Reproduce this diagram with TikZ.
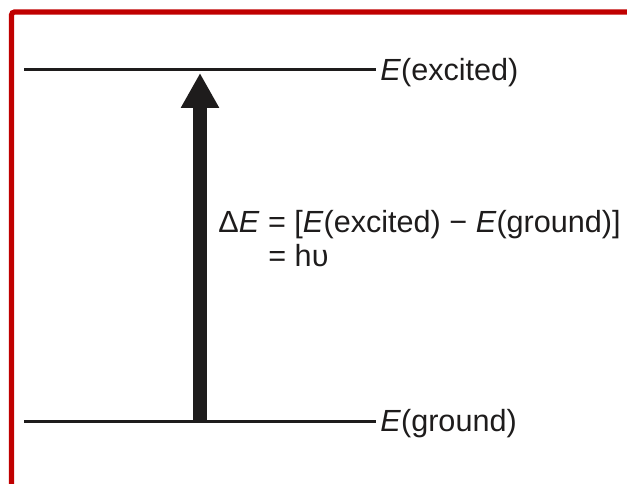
\documentclass[tikz,border=0pt]{standalone}
\usepackage{fontspec}
\setmainfont{Liberation Sans}
\usetikzlibrary{arrows.meta,positioning}
\definecolor{frame}{RGB}{192,0,0}
\definecolor{ink}{RGB}{30,28,28}

\begin{document}
\begin{tikzpicture}[x=0.5pt,y=0.5pt,
      level/.style={draw=ink,line width=1.5pt},
      lbl/.style={inner sep=0pt,text=ink,font=\fontsize{15.3}{18}\selectfont,anchor=base west}]
    \useasboundingbox (0,0) rectangle (627,483);
    % red frame
    \draw[frame,line width=2.6pt,rounded corners=1.5pt] (11.5,-5) |- (640,471);
    % energy levels
    \coordinate (exL) at (24,413);
    \coordinate (exR) at (376,413);
    \coordinate (gdL) at (24,62);
    \coordinate (gdR) at (376,62);
    \draw[level] (exL) -- (exR);
    \draw[level] (gdL) -- (gdR);
    \node[lbl] (exc) at (380,402) {\textit{E}(excited)};
    \node[lbl] (gnd) at (380,52) {\textit{E}(ground)};
    % transition
    \coordinate (up0) at (200,62);
    \coordinate (up1) at (200,410);
    \draw[ink,line width=7pt,-{Triangle[length=17.5pt,width=18pt]}] (up0) -- (up1);
    \node[lbl] (dE) at (218,250) {Δ\textit{E} = [\textit{E}(excited) − \textit{E}(ground)]};
    \node[lbl] (hv) at (268,217) {= hυ};
  \end{tikzpicture}
\end{document}
